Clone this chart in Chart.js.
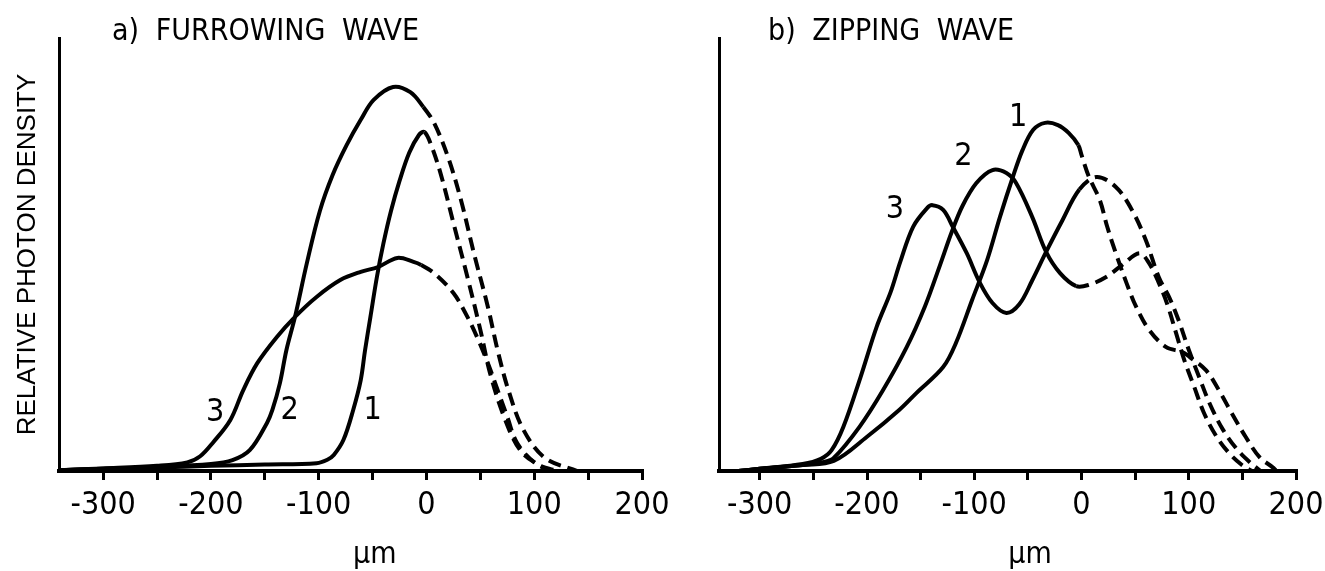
<!DOCTYPE html>
<html>
<head>
<meta charset="utf-8">
<script src="https://cdn.jsdelivr.net/npm/chart.js@4.4.1/dist/chart.umd.min.js"></script>
<style>
  html, body { margin: 0; padding: 0; background: #fff; }
  body { width: 1325px; height: 571px; position: relative; overflow: hidden; }
  canvas { position: absolute; top: 0; }
  #furrowChart { left: 0; }
  #zipChart { left: 662px; }
</style>
</head>
<body>
<canvas id="furrowChart" width="700" height="571"></canvas>
<canvas id="zipChart" width="663" height="571"></canvas>
<script>
// x in µm, y = relative photon density (0..100 = top of axis)
// a) furrowing wave
const furrow1 = [[-341,0.2],[-300,0.5],[-250,0.8],[-200,1.2],[-150,1.5],[-102,1.8],[-92,2.6],[-86,3.7],[-77,7.2],[-68,14.1],[-61,21],[-57,27.9],[-52,35.6],[-46,44.8],[-40,52.5],[-33,60],[-25,67],[-16,73.5],[-7,77.6],[-2,78.3],
  [4,75.5],[13,68.8],[25,57.3],[38,44.8],[50,32.6],[59,22.6],[72,12.5],[87,4.8],[105,1.3],[122,0]];
const furrow2 = [[-341,0.2],[-300,0.5],[-250,0.9],[-200,1.6],[-180,2.5],[-164,4.8],[-148,11.1],[-143,14.1],[-136,20.3],[-130,27.9],[-122,35.6],[-111,48],[-99,60],[-87,68.4],[-74,75.3],[-61,81.1],[-49,85.7],[-31,88.7],[-15,87.5],[-3,84.1],
  [7,80.4],[20,72.5],[32,62.6],[44,50.3],[57,37.9],[66,27.9],[76,18.7],[90,9.5],[110,3],[140,0]];
const furrow3 = [[-341,0.2],[-300,0.6],[-250,1.2],[-222,2],[-210,3.4],[-198,6.6],[-182,11.8],[-170,18.7],[-157,24.9],[-139,30.9],[-122,35.6],[-102,40.2],[-80,44.1],[-61,46],[-45,47.1],[-27,49.2],[-12,48.3],[-5,47.6],
  [7,45.7],[25,41.1],[38,35.6],[47,30.9],[57,24.9],[66,18.7],[75,12.5],[84,6.5],[100,2],[115,0]];
const furrowDashFrom = [-2, -3, -5];
const furrowLabels = [['1', -50, 13.9], ['2', -127, 13.9], ['3', -196, 13.4]];

// b) zipping wave
const zip1 = [[-320,0],[-300,0.5],[-260,1.4],[-231,2.3],[-200,7.9],[-170,14.1],[-154,18],[-129,24],[-117,29.6],[-102,39.5],[-88,48.7],[-76,58.7],[-64,67.9],[-55,74.1],[-45,78.8],[-34,80.4],[-22,79.9],[-12,78.1],[-3,75.3],
  [0,73],[7,67.9],[17,62.6],[24,56.4],[32,50.3],[42,43.4],[51,37.9],[63,32.6],[79,28.6],[94,27.5],[101,26.3],[116,23.3],[128,18.7],[140,13.4],[153,7.9],[166,3.2],[178,0.9],[182,0]];
const zip2 = [[-320,0],[-300,0.5],[-260,1.4],[-240,2.1],[-231,3],[-207,10.2],[-185,18.7],[-163,28.6],[-146,38],[-132,47.5],[-121,55.2],[-111,61.2],[-98,66.5],[-83,69.5],[-70,68.8],[-61,66.5],[-46,58.7],[-33,50.6],[-20,45.7],[-5,42.7],
  [7,43],[23,44.8],[38,47.6],[54,50.3],[63,48],[72,43.5],[80,38.5],[88,32],[96,25.5],[105,19.5],[114,13.5],[125,8.3],[137,4.3],[149,1.5],[159,0]];
const zip3 = [[-320,0],[-300,0.5],[-260,1.6],[-243,2.8],[-233,4.8],[-222,10.2],[-206,21.7],[-191,33.3],[-178,41.3],[-169,48.3],[-157,56.4],[-144,60.7],[-139,61.4],[-129,60.3],[-120,56.4],[-107,50.3],[-95,43.6],[-83,38.8],[-70,36.5],[-58,38.5],[-46,44],[-33,50.6],[-18,57.8],[-2,65],
  [14,67.9],[32,65.6],[47,60.3],[60,53.3],[72,44.8],[82,40],[91,34.5],[100,28],[110,21.5],[120,15.3],[132,9.5],[145,5],[157,2],[167,0]];
const zipDashFrom = [-3, -5, -2];
const zipLabels = [['1', -59, 81.5], ['2', -110, 72.5], ['3', -174, 60.3]];

const xTickValues = [-300, -250, -200, -150, -100, -50, 0, 50, 100, 150, 200];
const xTickLabels = ['-300', '', '-200', '', '-100', '', '0', '', '100', '', '200'];

const narrowFont = '"Liberation Sans Narrow", "DejaVu Sans Condensed", "Liberation Sans", sans-serif';

function makeSet(points, dashFrom) {
  return {
    data: points.map(p => ({x: p[0], y: p[1]})),
    borderColor: '#000',
    borderWidth: 4,
    pointRadius: 0,
    tension: 0.35,
    fill: false,
    borderJoinStyle: 'round',
    segment: {
      // measured part solid, extrapolated part dashed
      borderDash: ctx => ctx.p0.parsed.x >= dashFrom ? [13, 7] : undefined
    }
  };
}

// panel heading, curve numbers and the unit under the axis
const panelText = {
  id: 'panelText',
  afterDraw(chart, args, opts) {
    const {ctx, chartArea} = chart;
    const xs = chart.scales.x, ys = chart.scales.y;
    ctx.save();
    ctx.fillStyle = '#000';
    ctx.font = '30px ' + narrowFont;
    ctx.wordSpacing = '8px';
    ctx.textAlign = 'left';
    ctx.textBaseline = 'alphabetic';
    ctx.fillText(opts.title, chartArea.left + opts.titleShift, 40);
    ctx.wordSpacing = '0px';
    ctx.font = '32px ' + narrowFont;
    ctx.textAlign = 'center';
    ctx.textBaseline = 'middle';
    opts.labels.forEach(l => ctx.fillText(l[0], xs.getPixelForValue(l[1]), ys.getPixelForValue(l[2])));
    ctx.font = '30px ' + narrowFont;
    ctx.fillText('\u00b5m', xs.getPixelForValue(-48), chart.height - 16);
    ctx.restore();
  }
};

function panelOptions(cfg) {
  return {
    type: 'line',
    data: { datasets: cfg.sets },
    plugins: [panelText],
    options: {
      responsive: false,
      animation: false,
      events: [],
      layout: { padding: { left: 0, right: cfg.padRight, top: 38, bottom: 0 } },
      plugins: {
        legend: { display: false },
        tooltip: { enabled: false },
        panelText: { title: cfg.title, titleShift: cfg.titleShift, labels: cfg.labels }
      },
      scales: {
        x: {
          type: 'linear',
          min: cfg.xMin,
          max: 200,
          afterBuildTicks: s => { s.ticks = xTickValues.map(v => ({value: v})); },
          afterFit: s => { s.height = 100; s.paddingLeft = 0; s.paddingRight = 0; },
          grid: { display: true, drawOnChartArea: false, drawTicks: true, tickLength: 9, lineWidth: 3, color: '#000' },
          border: { display: true, color: '#000', width: 4 },
          ticks: {
            autoSkip: false,
            maxRotation: 0,
            padding: 6,
            color: '#000',
            font: { family: narrowFont, size: 32 },
            callback: (value, index) => xTickLabels[index]
          }
        },
        y: {
          min: 0,
          max: 100,
          afterFit: s => { s.width = cfg.yWidth; s.paddingTop = 0; s.paddingBottom = 0; },
          grid: { display: false },
          border: { display: true, color: '#000', width: 3 },
          ticks: { display: false },
          title: {
            display: cfg.yTitle !== '',
            text: cfg.yTitle,
            color: '#000',
            font: { family: '"Liberation Sans", Arial, sans-serif', size: 26 },
            padding: { top: 12, bottom: 0 }
          }
        }
      }
    }
  };
}

const furrowChart = new Chart(document.getElementById('furrowChart'), panelOptions({
  sets: [makeSet(furrow1, furrowDashFrom[0]), makeSet(furrow2, furrowDashFrom[1]), makeSet(furrow3, furrowDashFrom[2])],
  title: 'a) FURROWING WAVE',
  titleShift: 53,
  labels: furrowLabels,
  xMin: -341,
  padRight: 58,
  yWidth: 59,
  yTitle: 'RELATIVE PHOTON DENSITY'
}));

const zipChart = new Chart(document.getElementById('zipChart'), panelOptions({
  sets: [makeSet(zip1, zipDashFrom[0]), makeSet(zip2, zipDashFrom[1]), makeSet(zip3, zipDashFrom[2])],
  title: 'b) ZIPPING WAVE',
  titleShift: 49,
  labels: zipLabels,
  xMin: -338,
  padRight: 29,
  yWidth: 57,
  yTitle: ''
}));
</script>
</body>
</html>
